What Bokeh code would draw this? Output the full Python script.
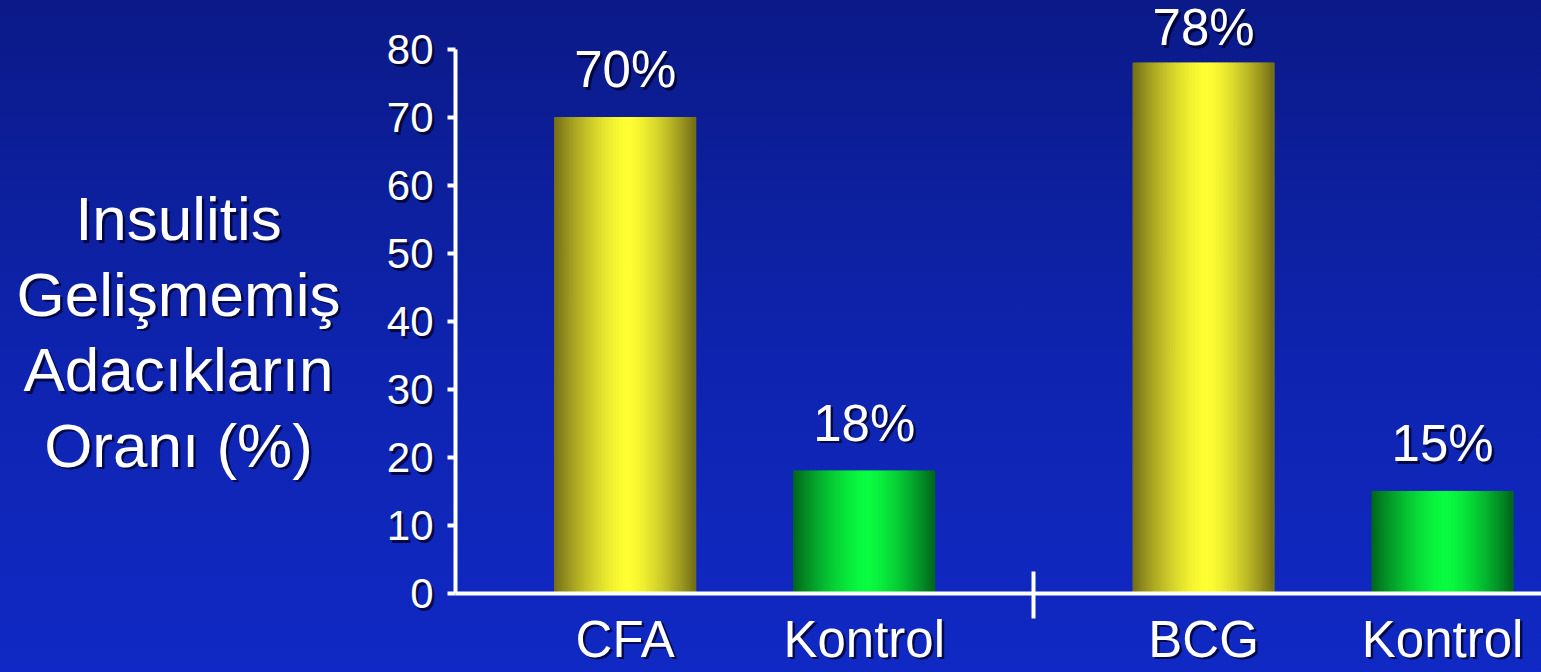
import numpy as np
from bokeh.plotting import figure
from bokeh.models import Range1d, FixedTicker, LinearAxis
from bokeh.core.properties import value
from bokeh.embed import file_html
from bokeh.resources import INLINE

# --- data -------------------------------------------------------------
categories = ["CFA", "Kontrol", "BCG", "Kontrol"]
group_index = [0, 0, 1, 1]          # CFA pair, BCG pair
slot_index = [0, 1, 0, 1]           # position inside its pair
values = [70, 18, 78, 15]
value_labels = ["70%", "18%", "78%", "15%"]
bar_kind = ["treated", "control", "treated", "control"]
y_ticks = [0, 10, 20, 30, 40, 50, 60, 70, 80]
title_lines = ["Insulitis", "Gelişmemiş", "Adacıkların", "Oranı (%)"]

# --- layout constants (pixels of the 1541x672 canvas) -----------------
FONT = "Liberation Sans"
W, H = 1541, 672
AXIS_X_PX, AXIS_Y_PX = 455, 593     # where the two axes cross
PX_PER_SLOT = 239.0
GAP = 0.21                          # padding at each side of a pair, in slots
GROUP_W = 2 + 2 * GAP
BAR_W = 0.59
Y_PX = 6.8                          # pixels per percentage point
SHADOW = 2.5                        # drop shadow offset, px
BASELINE_FIX = 21                   # lifts the text baseline onto its anchor

x_start, x_end = -AXIS_X_PX / PX_PER_SLOT, (W - AXIS_X_PX) / PX_PER_SLOT
y_start, y_end = -(H - AXIS_Y_PX) / Y_PX, AXIS_Y_PX / Y_PX

centers = [g * GROUP_W + GAP + s + 0.5 for g, s in zip(group_index, slot_index)]
separators = [g * GROUP_W for g in range(1, max(group_index) + 1)]

SHADES = {
    "treated": ((0x74, 0x6e, 0x18), (0xff, 0xff, 0x33)),
    "control": ((0x00, 0x66, 0x1c), (0x0a, 0xfc, 0x40)),
}
N_STRIPS = 90
PEAK = 0.52

p = figure(
    width=W, height=H,
    x_range=Range1d(x_start, x_end), y_range=Range1d(y_start, y_end),
    x_axis_location=None, y_axis_location=None,
    output_backend="svg", toolbar_location=None,
    min_border=0, min_border_left=0, min_border_right=0,
    min_border_top=0, min_border_bottom=0,
    background_fill_color=None, border_fill_color=None,
    outline_line_color=None,
)
p.styles = {"background": "linear-gradient(to bottom, #0b1a88 0%, #0e24b0 55%, #1029c4 100%)"}
# ranges shifted by the shadow offset, used for the shadow copies of the axis labels
p.extra_x_ranges = {"shadow": Range1d(x_start - SHADOW / PX_PER_SLOT, x_end - SHADOW / PX_PER_SLOT)}
p.extra_y_ranges = {"shadow": Range1d(y_start + SHADOW / Y_PX, y_end + SHADOW / Y_PX)}

# --- shaded bars: each bar is a row of thin vertical strips -------------
for c, v, kind in zip(centers, values, bar_kind):
    edge, hi = np.array(SHADES[kind][0], float), np.array(SHADES[kind][1], float)
    xs = np.linspace(c - BAR_W / 2, c + BAR_W / 2, N_STRIPS + 1)
    u = (np.arange(N_STRIPS) + 0.5) / N_STRIPS
    d = np.where(u < PEAK, (u - PEAK) / PEAK, (u - PEAK) / (1 - PEAK))
    f = 1 - np.abs(d) ** 1.5
    cols = ["#%02x%02x%02x" % tuple(np.round(edge + (hi - edge) * k).astype(int)) for k in f]
    p.quad(left=xs[:-1], right=xs[1:], bottom=0, top=v,
           fill_color=cols, line_color=cols, line_width=1.2)


def shadowed_text(x, y, text, size, dy=0):
    kw = dict(text_font=value(FONT), text_font_size=size,
              text_align="center", text_baseline="alphabetic")
    p.text(x=x, y=y, text=text, x_offset=SHADOW, y_offset=dy + SHADOW,
           text_color="#000022", text_alpha=0.75, **kw)
    p.text(x=x, y=y, text=text, x_offset=0, y_offset=dy, text_color="white", **kw)


# --- value labels: 27 px above each bar, kept below the top edge ----------
label_y = np.minimum(np.array(values, float) + 27 / Y_PX, (AXIS_Y_PX - 48) / Y_PX)
shadowed_text(centers, label_y, value_labels, "51px", dy=-BASELINE_FIX)

# --- stacked horizontal title left of the y axis --------------------------
title_x = [(178 - AXIS_X_PX) / PX_PER_SLOT] * len(title_lines)
title_y = [(AXIS_Y_PX - (244 + 75.5 * i)) / Y_PX for i in range(len(title_lines))]
shadowed_text(title_x, title_y, title_lines, "62px", dy=-BASELINE_FIX * 62 / 51)


# --- axes (shadow copy first, then the white axis on top) -----------------
def y_axis(shadow):
    ax = LinearAxis(ticker=FixedTicker(ticks=y_ticks), bounds=(0, 80), fixed_location=0,
                    major_tick_in=0, major_tick_out=8, major_label_standoff=14,
                    major_label_text_font=FONT, major_label_text_font_size="42px",
                    minor_tick_line_color=None)
    if shadow:
        ax.x_range_name = ax.y_range_name = "shadow"
        ax.axis_line_color = None
        ax.major_tick_line_color = None
        ax.major_label_text_color = "#000022"
        ax.major_label_text_alpha = 0.75
    else:
        ax.axis_line_color = "white"
        ax.axis_line_width = 4
        ax.major_tick_line_color = "white"
        ax.major_tick_line_width = 4
        ax.major_label_text_color = "white"
    return ax


def x_axis(shadow):
    ax = LinearAxis(ticker=FixedTicker(ticks=centers, minor_ticks=separators),
                    bounds=(0, x_end), fixed_location=0,
                    major_label_overrides={c: n for c, n in zip(centers, categories)},
                    major_tick_in=0, major_tick_out=0, major_tick_line_color=None,
                    minor_tick_in=22, minor_tick_out=25, major_label_standoff=-8,
                    major_label_text_font=FONT, major_label_text_font_size="51px")
    if shadow:
        ax.x_range_name = ax.y_range_name = "shadow"
        ax.axis_line_color = None
        ax.minor_tick_line_color = None
        ax.major_label_text_color = "#000022"
        ax.major_label_text_alpha = 0.75
    else:
        ax.axis_line_color = "white"
        ax.axis_line_width = 4
        ax.minor_tick_line_color = "white"
        ax.minor_tick_line_width = 4
        ax.major_label_text_color = "white"
    return ax


p.add_layout(y_axis(True), "left")
p.add_layout(y_axis(False), "left")
p.add_layout(x_axis(True), "below")
p.add_layout(x_axis(False), "below")
p.grid.visible = False

open("out.html", "w").write(file_html(p, INLINE))
